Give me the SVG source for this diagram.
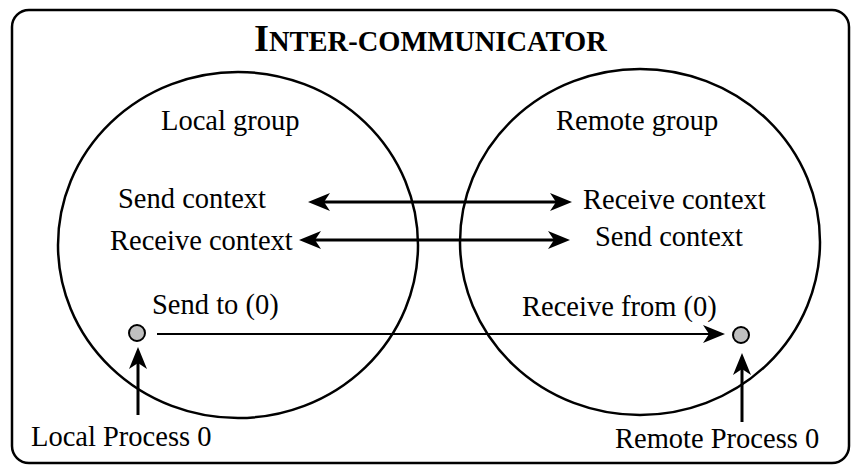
<svg xmlns="http://www.w3.org/2000/svg" width="853" height="466" viewBox="0 0 853 466">
  <style>
    .frame { fill: #ffffff; stroke: #000000; stroke-width: 2.5; }
    .group { fill: none; stroke: #000000; stroke-width: 2.5; }
    .label { font-family: "Liberation Serif", "Times New Roman", serif; font-size: 28.5px; fill: #000000; }
    .title { font-family: "Liberation Serif", "Times New Roman", serif; font-weight: bold; fill: #000000; }
    .proc { fill: #c0c0c0; stroke: #000000; stroke-width: 2; }
    .link { stroke: #000000; fill: none; }
    .thick { stroke-width: 3; }
    .thin { stroke-width: 2; }
  </style>
  <defs>
    <!-- barbed arrowhead; the line ends at the notch, the tip sits 16 px further on -->
    <marker id="head" markerUnits="userSpaceOnUse" markerWidth="24" markerHeight="20" viewBox="0 -10 24 20" refX="6" refY="0" orient="auto-start-reverse">
      <path d="M0,-9 L22,0 L0,9 L6,0 Z" fill="#000000"/>
    </marker>
  </defs>

  <!-- outer frame -->
  <rect class="frame" x="12" y="10" width="837" height="453" rx="17" ry="17"/>

  <!-- title -->
  <text class="title" x="254" y="51"><tspan font-size="38.5">I</tspan><tspan font-size="28.5">NTER-COMMUNICATOR</tspan></text>

  <!-- local group -->
  <g id="local-group">
    <ellipse class="group" cx="238" cy="245" rx="180" ry="173"/>
    <text class="label" x="161" y="130">Local group</text>
    <text class="label" x="118" y="208">Send context</text>
    <text class="label" x="110" y="250">Receive context</text>
    <text class="label" x="152" y="314">Send to (0)</text>
  </g>

  <!-- remote group -->
  <g id="remote-group">
    <ellipse class="group" cx="640" cy="242" rx="180" ry="173"/>
    <text class="label" x="556" y="130">Remote group</text>
    <text class="label" x="583" y="209">Receive context</text>
    <text class="label" x="595" y="246">Send context</text>
    <text class="label" x="522" y="316">Receive from (0)</text>
  </g>

  <!-- process 0 in each group -->
  <g id="local-process">
    <circle class="proc" cx="137" cy="333" r="8"/>
    <text class="label" x="31" y="446">Local Process 0</text>
  </g>
  <g id="remote-process">
    <circle class="proc" cx="741" cy="335" r="8"/>
    <text class="label" x="615" y="448">Remote Process 0</text>
  </g>

  <!-- connectors -->
  <g id="connectors">
    <line class="link thick" x1="324" y1="202" x2="556" y2="202" marker-start="url(#head)" marker-end="url(#head)"/>
    <line class="link thick" x1="315" y1="240" x2="554" y2="240" marker-start="url(#head)" marker-end="url(#head)"/>
    <line class="link thin" x1="157" y1="334" x2="709" y2="334" marker-end="url(#head)"/>
    <line class="link thick" x1="138" y1="415" x2="138" y2="363" marker-end="url(#head)"/>
    <line class="link thick" x1="742" y1="422" x2="742" y2="369" marker-end="url(#head)"/>
  </g>
</svg>
